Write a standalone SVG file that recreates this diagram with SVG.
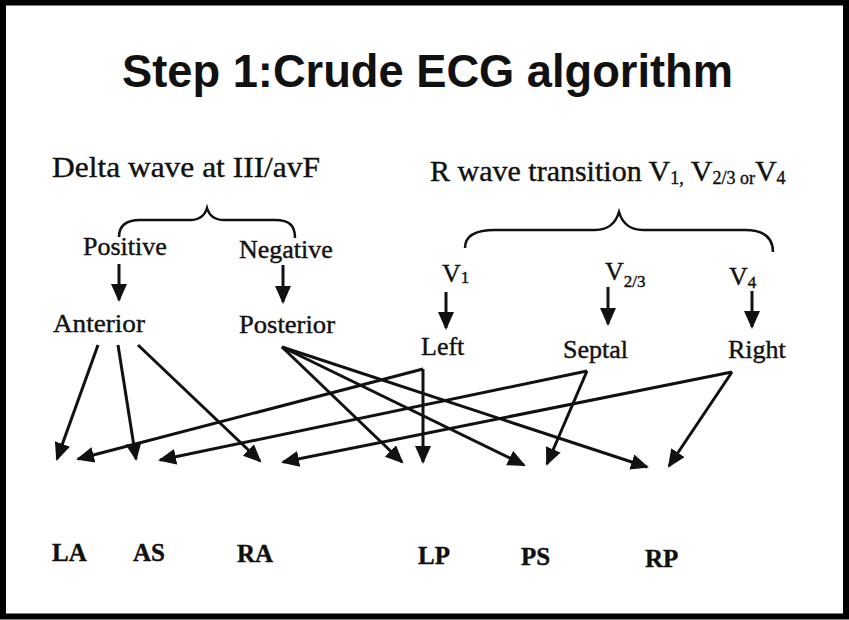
<svg xmlns="http://www.w3.org/2000/svg" width="849" height="620" viewBox="0 0 849 620">
<defs>
<style>
.t{font-family:"Liberation Serif","Times New Roman",serif;fill:#111;stroke:#111;stroke-width:0.4;}
.m{font-size:26px;}
.b{font-size:25px;font-weight:bold;}
.h{font-size:30px;}
.c{fill:none;stroke:#111;stroke-width:3;}
.br{fill:none;stroke:#111;stroke-width:2.5;}
</style>
<marker id="ah" markerUnits="userSpaceOnUse" markerWidth="20" markerHeight="18" refX="16" refY="8" orient="auto">
<path d="M0,0 L18,8 L0,16 z" fill="#111"/>
</marker>
</defs>
<rect x="3" y="2.5" width="843" height="614" fill="#fff" stroke="#000" stroke-width="6"/>
<g id="title">
<text x="427.5" y="87" text-anchor="middle" textLength="611" lengthAdjust="spacingAndGlyphs" style="font-family:'Liberation Sans',Arial,sans-serif;font-weight:bold;font-size:47px;fill:#111">Step 1:Crude ECG algorithm</text>
</g>
<g id="delta">
<text class="t h" x="52" y="177" textLength="268" lengthAdjust="spacingAndGlyphs">Delta wave at III/avF</text>
<path class="br" d="M119,237 C119,226 125,220 140,220 L190,220 C200,220 205,215 207,208 C209,215 214,220 224,220 L275,220 C290,220 295,226 295,238"/>
</g>
<g id="rwave">
<text class="t h" x="430" y="181">R wave transition V<tspan font-size="18" dy="3">1,</tspan><tspan dy="-3"> V</tspan><tspan font-size="18" dy="3">2/3 or</tspan><tspan dy="-3">V</tspan><tspan font-size="18" dy="3">4</tspan></text>
<path class="br" d="M465,248 C465,236 475,230 495,230 L595,230 C610,230 616,222 619,212 C622,222 628,230 643,230 L745,230 C765,230 773,238 773,252"/>
</g>
<g id="positive"><text class="t m" x="83" y="255">Positive</text></g>
<g id="negative"><text class="t m" x="239" y="258">Negative</text></g>
<g id="anterior"><text class="t m" x="53" y="332" textLength="92" lengthAdjust="spacingAndGlyphs">Anterior</text></g>
<g id="posterior"><text class="t m" x="239" y="333" textLength="96" lengthAdjust="spacingAndGlyphs">Posterior</text></g>
<g id="v1"><text class="t m" x="442" y="282">V<tspan font-size="17" dy="1">1</tspan></text></g>
<g id="v23"><text class="t m" x="605" y="280">V<tspan font-size="17" dy="7">2/3</tspan></text></g>
<g id="v4"><text class="t m" x="729" y="285">V<tspan font-size="17" dy="3">4</tspan></text></g>
<g id="left"><text class="t m" x="421" y="355">Left</text></g>
<g id="septal"><text class="t m" x="563" y="358">Septal</text></g>
<g id="right"><text class="t m" x="728" y="358">Right</text></g>
<g id="la"><text class="t b" x="52" y="561">LA</text></g>
<g id="as"><text class="t b" x="133" y="561">AS</text></g>
<g id="ra"><text class="t b" x="237" y="562">RA</text></g>
<g id="lp"><text class="t b" x="418" y="564">LP</text></g>
<g id="ps"><text class="t b" x="521" y="565">PS</text></g>
<g id="rp"><text class="t b" x="645" y="567">RP</text></g>
<g id="connectors">
<line class="c" x1="119" y1="264" x2="119" y2="300" marker-end="url(#ah)"/>
<line class="c" x1="283" y1="265" x2="283" y2="302" marker-end="url(#ah)"/>
<line class="c" x1="446" y1="292" x2="446" y2="328" marker-end="url(#ah)"/>
<line class="c" x1="608" y1="287" x2="608" y2="324" marker-end="url(#ah)"/>
<line class="c" x1="752" y1="291" x2="752" y2="327" marker-end="url(#ah)"/>
<line class="c" x1="98" y1="345" x2="57" y2="459" marker-end="url(#ah)"/>
<line class="c" x1="118" y1="345" x2="136" y2="459" marker-end="url(#ah)"/>
<line class="c" x1="138" y1="345" x2="260" y2="461" marker-end="url(#ah)"/>
<line class="c" x1="282" y1="347" x2="402" y2="462" marker-end="url(#ah)"/>
<line class="c" x1="282" y1="347" x2="524" y2="465" marker-end="url(#ah)"/>
<line class="c" x1="282" y1="347" x2="647" y2="467" marker-end="url(#ah)"/>
<line class="c" x1="423" y1="369" x2="78" y2="459" marker-end="url(#ah)"/>
<line class="c" x1="423" y1="369" x2="423" y2="462" marker-end="url(#ah)"/>
<line class="c" x1="587" y1="371" x2="160" y2="460" marker-end="url(#ah)"/>
<line class="c" x1="587" y1="371" x2="547" y2="464" marker-end="url(#ah)"/>
<line class="c" x1="732" y1="372" x2="283" y2="462" marker-end="url(#ah)"/>
<line class="c" x1="732" y1="372" x2="669" y2="466" marker-end="url(#ah)"/>
</g>
</svg>
